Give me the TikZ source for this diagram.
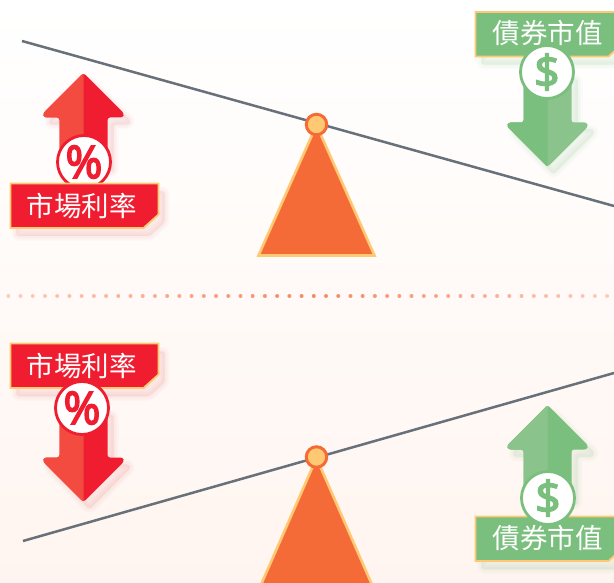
\documentclass[tikz,border=0pt]{standalone}
\usepackage{fontspec}
\newfontfamily\cjk{Noto Sans CJK TC}
\newfontfamily\symfont[FakeBold=3.5]{Open Sans}
\definecolor{bgbot}{HTML}{FFF5F0}
\definecolor{redA}{HTML}{F01C2F}
\definecolor{redB}{HTML}{F34B40}
\definecolor{greenA}{HTML}{7ABF7E}
\definecolor{greenB}{HTML}{8AC48C}
\definecolor{gold}{HTML}{FFC974}
\definecolor{pivotfill}{HTML}{F46B38}
\definecolor{beamcol}{HTML}{687079}
\definecolor{dotcol}{HTML}{F58A66}
\definecolor{shRed}{HTML}{F08080}
\definecolor{shGreen}{HTML}{8FC793}
\tikzset{
  beam/.style={draw=beamcol,line width=2.5pt},
  fulcrum/.style={fill=pivotfill,draw=gold,line width=2.6pt,line join=miter},
  pivot/.style={circle,fill=gold,draw=pivotfill,line width=3pt,minimum size=20.5pt,inner sep=0pt},
  tagtext/.style={text=white,font=\cjk\fontsize{27.5}{30}\selectfont,inner sep=0pt},
  badge/.style={circle,fill=white,line width=2.8pt,minimum size=53pt,inner sep=0pt,font=\symfont\fontsize{45}{48}\selectfont},
}
% soft shadow: several wide translucent strokes of the same path
\newcommand{\softsh}[2]{%
  \foreach \w in {10,7,4,1}{%
    \path[fill=#1,draw=#1,fill opacity=.035,draw opacity=.035,line width=\w pt,line join=round,rounded corners=2.5pt] #2;}}
\newcommand{\arrowpath}[1]{(0,0)--(40.5,40.5)--(39.5,44.5)--(24,44.5)--(24,#1)--(-24,#1)--(-24,44.5)--(-39.5,44.5)--(-40.5,40.5)--cycle}
% arguments: tip x, tip y, direction (1 up, -1 down), length, left colour, right colour, shadow
\newcommand{\bigarrow}[7]{%
  \begin{scope}[shift={(#1+6,#2+7)},yscale=#3]\softsh{#7}{\arrowpath{#4}}\end{scope}
  \begin{scope}[shift={(#1,#2)},yscale=#3]
    \fill[#6,rounded corners=2.5pt] \arrowpath{#4};
    \begin{scope}\clip (-60,-5) rectangle (0,#4+5);
      \fill[#5,rounded corners=2.5pt] \arrowpath{#4};\end{scope}
  \end{scope}}
\newcommand{\tagpath}[2]{(#1,#2)--(#1+148,#2)--(#1+148,#2+31)--(#1+133,#2+44.5)--(#1,#2+44.5)--cycle}
% arguments: left, top, fill, shadow
\newcommand{\tagbox}[4]{%
  \begin{scope}[shift={(6,8)}]\softsh{#4}{\tagpath{#1}{#2}}\end{scope}
  \draw[fill=#3,draw=gold,line width=1.8pt] \tagpath{#1}{#2};}
\begin{document}
\begin{tikzpicture}[x=1pt,y=-1pt]
\useasboundingbox (0,0) rectangle (614,583);
\clip (0,0) rectangle (614,583);
\shade[top color=white,bottom color=bgbot] (0,0) rectangle (614,583);
% dotted divider
\foreach \k in {-20,...,29}{
  \pgfmathsetmacro{\op}{max(0.4,1-abs(\k*12.22-60)/500)}
  \fill[dotcol,opacity=\op] (252.7+\k*12.22,296) circle (2pt);}
% upper balance
\coordinate (beamAl) at (22,41);
\coordinate (beamAr) at (614,206);
\coordinate (pivA) at (316.5,124.5);
\draw[beam] (beamAl)--(beamAr);
\draw[fulcrum] (316.5,125)--(374.5,255.5)--(258.5,255.5)--cycle;
\node[pivot] (pivotA) at (pivA) {};
% lower balance
\coordinate (beamBl) at (23,541);
\coordinate (beamBr) at (614,373);
\coordinate (pivB) at (316.5,457);
\draw[beam] (beamBl)--(beamBr);
\draw[fulcrum] (316.5,458)--(376.5,595)--(256.5,595)--cycle;
\node[pivot] (pivotB) at (pivB) {};
% upper red group
\bigarrow{83.5}{73}{1}{92}{redB}{redA}{shRed}
\node[badge,draw=redA,text=redA] (pctA) at (84,162) {\%};
\tagbox{10.5}{183.5}{redA}{shRed}
\node[tagtext] (rateA) at (82,206) {市場利率};
% upper green group
\bigarrow{547.5}{167}{-1}{95}{greenA}{greenB}{shGreen}
\tagbox{475.5}{12}{greenA}{shGreen}
\node[badge,draw=greenA,text=greenA] (usdA) at (547,72) {\$};
\node[tagtext] (bondA) at (547.5,33) {債券市值};
% lower red group
\bigarrow{83.5}{502}{-1}{94}{redB}{redA}{shRed}
\tagbox{10.5}{343.5}{redA}{shRed}
\node[badge,draw=redA,text=redA] (pctB) at (82,408) {\%};
\node[tagtext] (rateB) at (82,366) {市場利率};
% lower green group
\bigarrow{547.5}{405}{1}{93}{greenB}{greenA}{shGreen}
\tagbox{475.5}{516.5}{greenA}{shGreen}
\node[badge,draw=greenA,text=greenA] (usdB) at (548,498) {\$};
\node[tagtext] (bondB) at (547.5,538) {債券市值};
\end{tikzpicture}
\end{document}
